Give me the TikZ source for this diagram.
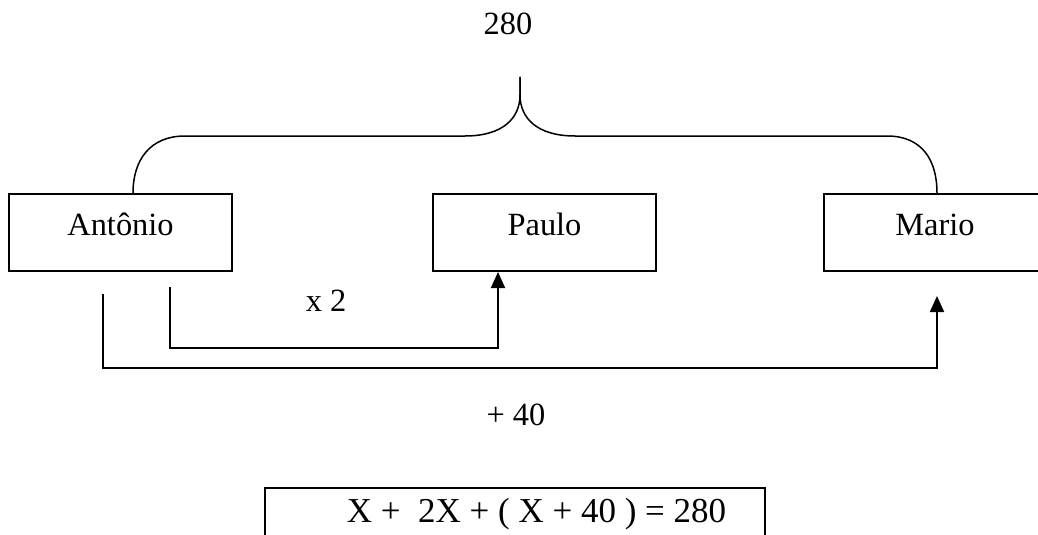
\documentclass[tikz,border=0pt]{standalone}
\usepackage{fontspec}
\setmainfont{Liberation Serif}
\usetikzlibrary{arrows.meta}

\tikzset{
  box/.style={draw, line width=1pt, inner sep=0pt, minimum width=111.5pt,
    text height=20.5pt, text depth=18pt, anchor=base},
  tag/.style={anchor=base},
  link/.style={line width=1pt, -{Triangle[width=7pt,length=8pt]}},
}

\begin{document}
\begin{tikzpicture}[x=0.5pt, y=-0.5pt, font=\fontsize{16.2}{19}\selectfont]
  \useasboundingbox (0,0) rectangle (1038,535);
  %
  \node[box] (antonio) at (120.5,235) {Antônio};
  \node[box] (paulo) at (544.5,235) {Paulo};
  \node[box] (mario) at (935,235) {Mario};
  \node[draw, line width=1pt, inner sep=0pt, minimum width=250pt, minimum height=38.5pt,
    anchor=north] (eq) at (515,487) {};
  \node[tag, font=\fontsize{17.5}{21}\selectfont] (eqtext) at (536.5,522) {X +\ \ 2X + ( X + 40 ) = 280};
  %
  \node[tag] (total) at (508,35) {280};
  \node[tag] (vezes) at (326,311) {x 2};
  \node[tag] (mais) at (516,425) {+ 40};
  %
  \coordinate (tip) at (520,77);
  \draw[line width=0.75pt] (antonio.north -| 133,0) .. controls (133,160) and (150,136) .. (185,136)
    -- (465,136) .. controls (503,136) and (520,118) .. (520,95) -- (tip);
  \draw[line width=0.75pt] (tip) -- (520,95) .. controls (520,118) and (537,136) .. (575,136)
    -- (887,136) .. controls (922,136) and (937,160) .. (mario.north -| 937,0);
  %
  \coordinate (a1) at (170,287);
  \coordinate (a2) at (103,294);
  \coordinate (m1) at (937,296);
  \draw[link] (a1) |- (498,348) -- (paulo.south -| 498,0);
  \draw[link] (a2) |- (937,368) -- (m1);
\end{tikzpicture}
\end{document}
